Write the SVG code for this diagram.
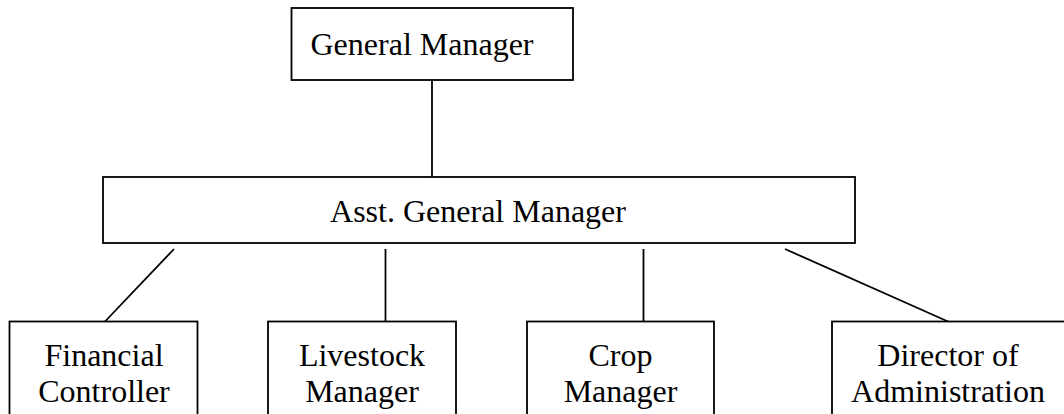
<svg xmlns="http://www.w3.org/2000/svg" width="1064" height="414" viewBox="0 0 1064 414">
<style>
.box{fill:#fff;stroke:#000;stroke-width:1.8}
.conn line{stroke:#000;stroke-width:1.8}
text{font-family:"Liberation Serif","Times New Roman",serif;font-size:32px;fill:#000;text-anchor:middle}
</style>
<rect width="1064" height="414" fill="#fff"/>
<g id="connectors" class="conn">
<line x1="432" y1="80" x2="432" y2="177"/>
<line x1="174" y1="249" x2="105" y2="321.5"/>
<line x1="385.5" y1="249" x2="385.5" y2="321.5"/>
<line x1="643.5" y1="249" x2="643.5" y2="321.5"/>
<line x1="785" y1="249" x2="948" y2="321.5"/>
</g>
<g id="general-manager">
<rect class="box" x="291.5" y="8" width="281.5" height="72"/>
<text x="422" y="55">General Manager</text>
</g>
<g id="asst-general-manager">
<rect class="box" x="103" y="177" width="752" height="66"/>
<text x="478" y="222">Asst. General Manager</text>
</g>
<g id="financial-controller">
<rect class="box" x="9.5" y="321.5" width="188" height="100"/>
<text x="104" y="366">Financial</text>
<text x="104" y="402">Controller</text>
</g>
<g id="livestock-manager">
<rect class="box" x="268" y="321.5" width="188" height="100"/>
<text x="362" y="366">Livestock</text>
<text x="362" y="402">Manager</text>
</g>
<g id="crop-manager">
<rect class="box" x="527" y="321.5" width="187" height="100"/>
<text x="620.5" y="366">Crop</text>
<text x="620.5" y="402">Manager</text>
</g>
<g id="director-of-administration">
<rect class="box" x="832" y="321.5" width="240" height="100"/>
<text x="948" y="366">Director of</text>
<text x="948" y="402">Administration</text>
</g>
</svg>
